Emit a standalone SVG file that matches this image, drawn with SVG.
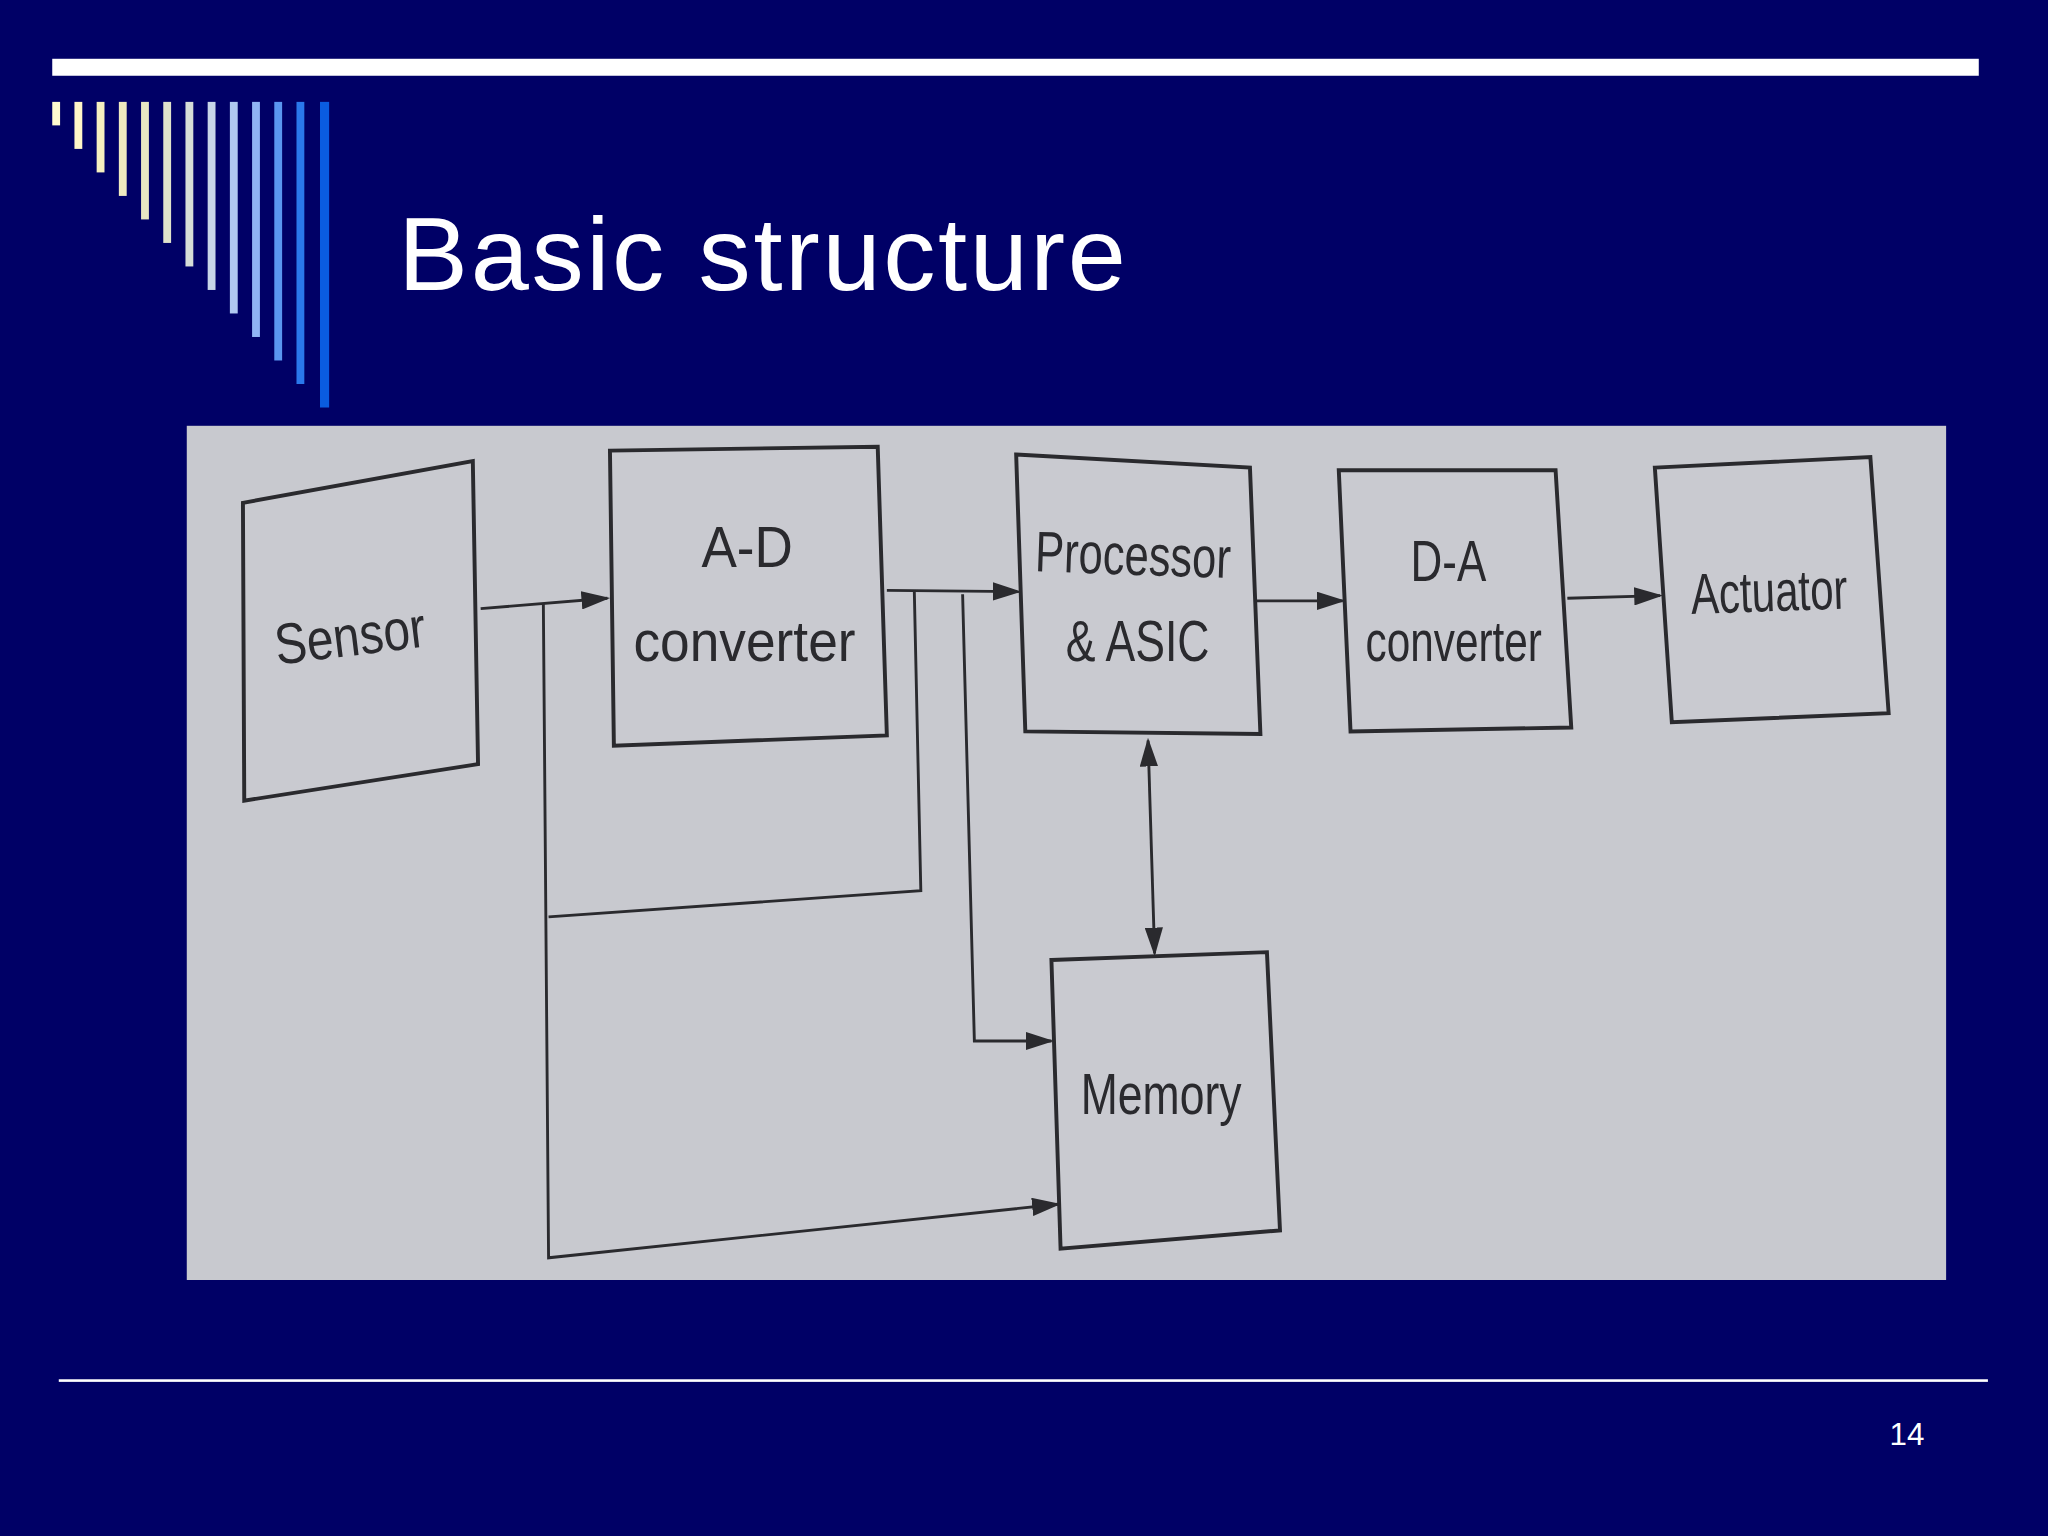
<svg xmlns="http://www.w3.org/2000/svg" width="2048" height="1536" viewBox="0 0 2048 1536">
<defs>
<style>
.box{fill:#c9cad0;stroke:#2a2a2e;stroke-width:3}
.ln{fill:none;stroke:#2a2a2e;stroke-width:2.2}
.t{font-family:"Liberation Sans",Arial,sans-serif;fill:#2a2a2e;font-size:44px;text-anchor:middle}
</style>
<marker id="ah" viewBox="0 0 10 10" refX="9" refY="5" markerWidth="22" markerHeight="14" orient="auto-start-reverse" markerUnits="userSpaceOnUse" preserveAspectRatio="none"><path d="M0,0 L10,5 L0,10 z" fill="#2a2a2e"/></marker>
</defs>
<rect width="2048" height="1536" fill="#000066"/>
<g transform="scale(1.30612)">
<rect x="40" y="45" width="1475" height="13" fill="#fff"/>
<g id="stripes">
<rect x="40" y="78" width="6" height="18" fill="#fffbd0"/>
<rect x="57" y="78" width="6" height="36" fill="#fff6c8"/>
<rect x="74" y="78" width="6" height="54" fill="#f6f0c0"/>
<rect x="91" y="78" width="6" height="72" fill="#efeac0"/>
<rect x="108" y="78" width="6" height="90" fill="#e8e6c4"/>
<rect x="125" y="78" width="6" height="108" fill="#e0e2cc"/>
<rect x="142" y="78" width="6" height="126" fill="#d6ddd8"/>
<rect x="159" y="78" width="6" height="144" fill="#c8d6e8"/>
<rect x="176" y="78" width="6" height="162" fill="#b0c8f0"/>
<rect x="193" y="78" width="6" height="180" fill="#90b4f4"/>
<rect x="210" y="78" width="6" height="198" fill="#5a96f0"/>
<rect x="227" y="78" width="6" height="216" fill="#2a78ec"/>
<rect x="245" y="78" width="7" height="234" fill="#0a5ce0"/>
</g>
<text x="305" y="222" font-family="Liberation Sans,Arial,sans-serif" font-size="80" fill="#fff" textLength="557">Basic structure</text>
<rect x="143" y="326" width="1347" height="654" fill="#c8c9cf"/>
<g id="sensor"><polygon class="box" points="186,385 362,353 366,585 187,613"/><text class="t" x="268" y="502" transform="rotate(-7 268 487)" textLength="116" lengthAdjust="spacingAndGlyphs">Sensor</text></g>
<g id="adc"><polygon class="box" points="467,345 672,342 679,563 470,571"/><text class="t" x="572" y="434" textLength="70" lengthAdjust="spacingAndGlyphs">A-D</text><text class="t" x="570" y="506" textLength="170" lengthAdjust="spacingAndGlyphs">converter</text></g>
<g id="proc"><polygon class="box" points="778,348 957,358 965,562 785,560"/><text class="t" x="867" y="440" transform="rotate(2 867 440)" textLength="150" lengthAdjust="spacingAndGlyphs">Processor</text><text class="t" x="871" y="506" textLength="110" lengthAdjust="spacingAndGlyphs">&amp; ASIC</text></g>
<g id="dac"><polygon class="box" points="1025,360 1191,360 1203,557 1034,560"/><text class="t" x="1109" y="445" textLength="58" lengthAdjust="spacingAndGlyphs">D-A</text><text class="t" x="1113" y="506" textLength="135" lengthAdjust="spacingAndGlyphs">converter</text></g>
<g id="act"><polygon class="box" points="1267,358 1432,350 1446,546 1280,553"/><text class="t" x="1355" y="468" transform="rotate(-2 1355 468)" textLength="120" lengthAdjust="spacingAndGlyphs">Actuator</text></g>
<g id="mem"><polygon class="box" points="805,735 970,729 980,942 812,956"/><text class="t" x="889" y="853" textLength="123" lengthAdjust="spacingAndGlyphs">Memory</text></g>
<g id="connectors">
<line class="ln" x1="368" y1="466" x2="465" y2="458" marker-end="url(#ah)"/>
<line class="ln" x1="679" y1="452" x2="780" y2="453" marker-end="url(#ah)"/>
<line class="ln" x1="962" y1="460" x2="1028" y2="460" marker-end="url(#ah)"/>
<line class="ln" x1="1200" y1="458" x2="1271" y2="456" marker-end="url(#ah)"/>
<polyline class="ln" points="416,462 420,963 810,922" marker-end="url(#ah)"/>
<polyline class="ln" points="700,452 705,682 420,702"/>
<polyline class="ln" points="737,455 746,797 805,797" marker-end="url(#ah)"/>
<line class="ln" x1="879" y1="567" x2="884" y2="730" marker-start="url(#ah)" marker-end="url(#ah)"/>
</g>
<rect x="45" y="1056" width="1477" height="2" fill="#fff"/>
<text x="1460" y="1106" font-family="Liberation Sans,Arial,sans-serif" font-size="24" fill="#fff" text-anchor="middle">14</text>
</g>
</svg>
